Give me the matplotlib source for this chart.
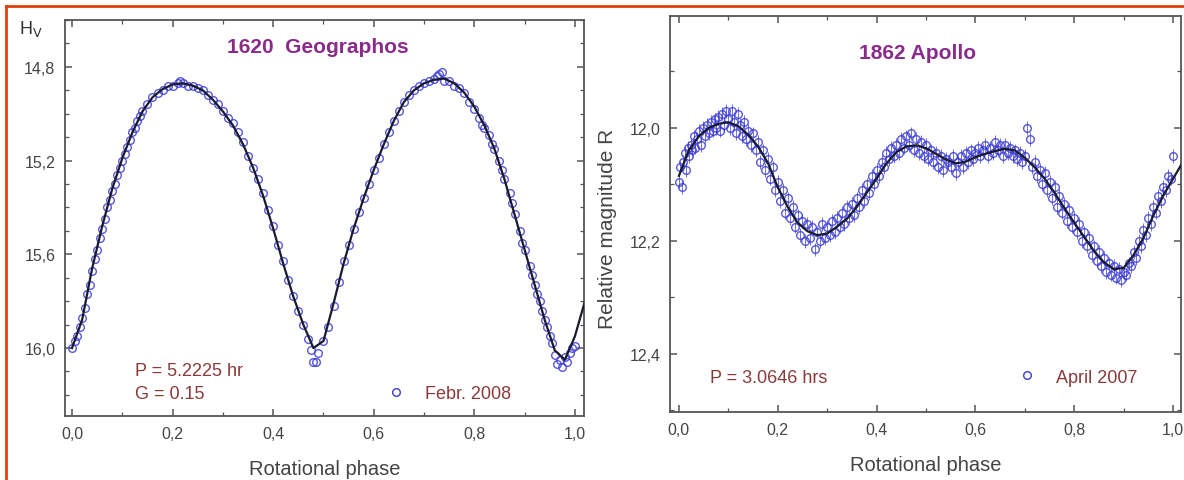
import matplotlib
matplotlib.use("Agg")
import matplotlib.pyplot as plt
from matplotlib.ticker import MultipleLocator, FuncFormatter
from matplotlib.lines import Line2D

plt.rcParams["font.family"] = ["Liberation Sans", "DejaVu Sans"]

# --- 1620 Geographos: fitted curve ---
geo_fit_phase = [0.00, 0.02, 0.04, 0.06, 0.08, 0.10, 0.12, 0.14, 0.16, 0.18,
                 0.20, 0.22, 0.24, 0.26, 0.28, 0.30, 0.32, 0.34, 0.36, 0.38,
                 0.40, 0.42, 0.44, 0.46, 0.48, 0.50, 0.52, 0.54, 0.56, 0.58,
                 0.60, 0.62, 0.64, 0.66, 0.68, 0.70, 0.72, 0.74, 0.76, 0.78,
                 0.80, 0.82, 0.84, 0.86, 0.88, 0.90, 0.92, 0.94, 0.96, 0.98,
                 1.00, 1.02]
geo_fit_mag = [16.00, 15.88, 15.66, 15.48, 15.32, 15.19, 15.08, 14.99, 14.93, 14.895,
               14.875, 14.87, 14.88, 14.90, 14.94, 14.99, 15.05, 15.13, 15.23, 15.35,
               15.49, 15.64, 15.78, 15.90, 16.00, 15.97, 15.81, 15.64, 15.49, 15.36,
               15.24, 15.13, 15.03, 14.95, 14.90, 14.87, 14.855, 14.85, 14.87, 14.91,
               14.97, 15.05, 15.15, 15.28, 15.43, 15.58, 15.73, 15.88, 16.01, 16.05,
               15.95, 15.80]

# --- 1620 Geographos: observations (Febr. 2008) ---
geo_obs_phase = [0.000, 0.005, 0.010, 0.015, 0.020, 0.025, 0.030, 0.035, 0.040, 0.045,
                 0.050, 0.055, 0.060, 0.065, 0.070, 0.075, 0.080, 0.085, 0.090, 0.095,
                 0.100, 0.105, 0.110, 0.115, 0.120, 0.125, 0.130, 0.135, 0.140, 0.150,
                 0.160, 0.170, 0.180, 0.190, 0.200, 0.210, 0.215, 0.220, 0.230, 0.240,
                 0.250, 0.260, 0.270, 0.280, 0.290, 0.300, 0.310, 0.320, 0.330, 0.340,
                 0.350, 0.360, 0.370, 0.380, 0.390, 0.400, 0.410, 0.420, 0.430, 0.440,
                 0.450, 0.460, 0.470, 0.475, 0.480, 0.485, 0.490, 0.500, 0.510, 0.520,
                 0.530, 0.540, 0.550, 0.560, 0.570, 0.580, 0.590, 0.600, 0.610, 0.620,
                 0.630, 0.640, 0.650, 0.660, 0.670, 0.680, 0.690, 0.700, 0.710, 0.720,
                 0.725, 0.730, 0.735, 0.740, 0.750, 0.760, 0.770, 0.780, 0.790, 0.800,
                 0.810, 0.815, 0.820, 0.830, 0.835, 0.840, 0.850, 0.855, 0.860, 0.870,
                 0.875, 0.880, 0.890, 0.895, 0.900, 0.910, 0.915, 0.920, 0.925, 0.930,
                 0.935, 0.940, 0.945, 0.950, 0.955, 0.960, 0.965, 0.970, 0.975, 0.980,
                 0.985, 0.990, 0.995, 1.000]
geo_obs_mag = [16.00, 15.97, 15.95, 15.91, 15.87, 15.83, 15.77, 15.73, 15.67, 15.62,
               15.58, 15.53, 15.49, 15.45, 15.40, 15.37, 15.33, 15.30, 15.26, 15.23,
               15.20, 15.17, 15.14, 15.11, 15.08, 15.06, 15.03, 15.01, 14.99, 14.96,
               14.93, 14.91, 14.90, 14.88, 14.88, 14.87, 14.86, 14.87, 14.88, 14.88,
               14.89, 14.90, 14.92, 14.94, 14.96, 14.99, 15.02, 15.04, 15.08, 15.12,
               15.18, 15.23, 15.28, 15.34, 15.41, 15.48, 15.56, 15.63, 15.71, 15.78,
               15.84, 15.90, 15.96, 16.01, 16.06, 16.06, 16.02, 15.97, 15.91, 15.82,
               15.72, 15.63, 15.56, 15.49, 15.42, 15.36, 15.30, 15.24, 15.19, 15.13,
               15.08, 15.03, 14.99, 14.95, 14.92, 14.90, 14.88, 14.87, 14.86, 14.85,
               14.84, 14.83, 14.82, 14.86, 14.86, 14.88, 14.89, 14.91, 14.95, 14.98,
               15.02, 15.05, 15.06, 15.09, 15.13, 15.15, 15.20, 15.24, 15.28, 15.34,
               15.38, 15.43, 15.50, 15.55, 15.58, 15.65, 15.69, 15.73, 15.77, 15.80,
               15.84, 15.88, 15.91, 15.95, 15.98, 16.03, 16.07, 16.05, 16.08, 16.04,
               16.06, 16.02, 16.00, 15.99]

# --- 1862 Apollo: fitted curve ---
apo_fit_phase = [0.00, 0.02, 0.04, 0.06, 0.08, 0.10, 0.12, 0.14, 0.16, 0.18,
                 0.20, 0.22, 0.24, 0.26, 0.28, 0.30, 0.32, 0.34, 0.36, 0.38,
                 0.40, 0.42, 0.44, 0.46, 0.48, 0.50, 0.52, 0.54, 0.56, 0.58,
                 0.60, 0.62, 0.64, 0.66, 0.68, 0.70, 0.72, 0.74, 0.76, 0.78,
                 0.80, 0.82, 0.84, 0.86, 0.88, 0.90, 0.92, 0.94, 0.96, 0.98,
                 1.00, 1.02]
apo_fit_mag = [12.085, 12.04, 12.015, 12.0, 11.993, 11.99, 11.997, 12.012, 12.033, 12.062,
               12.105, 12.14, 12.168, 12.183, 12.19, 12.187, 12.175, 12.161, 12.14, 12.115,
               12.09, 12.063, 12.043, 12.033, 12.031, 12.036, 12.046, 12.056, 12.063, 12.06,
               12.052, 12.046, 12.041, 12.037, 12.04, 12.053, 12.07, 12.09, 12.115, 12.142,
               12.168, 12.193, 12.218, 12.238, 12.25, 12.248, 12.225, 12.195, 12.155, 12.12,
               12.09, 12.06]

# --- 1862 Apollo: observations (April 2007) ---
apo_obs_phase = [0.000, 0.003, 0.006, 0.009, 0.012, 0.015, 0.018, 0.021, 0.024, 0.027,
                 0.030, 0.033, 0.036, 0.040, 0.044, 0.048, 0.052, 0.056, 0.060, 0.064,
                 0.068, 0.072, 0.076, 0.080, 0.084, 0.088, 0.092, 0.096, 0.100, 0.104,
                 0.108, 0.112, 0.116, 0.120, 0.124, 0.128, 0.132, 0.136, 0.140, 0.145,
                 0.150, 0.155, 0.160, 0.165, 0.170, 0.175, 0.180, 0.185, 0.190, 0.195,
                 0.200, 0.205, 0.210, 0.215, 0.220, 0.225, 0.230, 0.235, 0.240, 0.245,
                 0.250, 0.255, 0.260, 0.265, 0.270, 0.275, 0.280, 0.285, 0.290, 0.295,
                 0.300, 0.305, 0.310, 0.315, 0.320, 0.325, 0.330, 0.335, 0.340, 0.345,
                 0.350, 0.355, 0.360, 0.365, 0.370, 0.375, 0.380, 0.385, 0.390, 0.395,
                 0.400, 0.405, 0.410, 0.415, 0.420, 0.425, 0.430, 0.435, 0.440, 0.445,
                 0.450, 0.455, 0.460, 0.465, 0.470, 0.475, 0.480, 0.485, 0.490, 0.495,
                 0.500, 0.505, 0.510, 0.515, 0.520, 0.525, 0.530, 0.535, 0.540, 0.545,
                 0.550, 0.555, 0.560, 0.565, 0.570, 0.575, 0.580, 0.585, 0.590, 0.595,
                 0.600, 0.605, 0.610, 0.615, 0.620, 0.625, 0.630, 0.635, 0.640, 0.645,
                 0.650, 0.655, 0.660, 0.665, 0.670, 0.675, 0.680, 0.685, 0.690, 0.695,
                 0.700, 0.705, 0.710, 0.715, 0.720, 0.725, 0.730, 0.735, 0.740, 0.745,
                 0.750, 0.755, 0.760, 0.765, 0.770, 0.775, 0.780, 0.785, 0.790, 0.795,
                 0.800, 0.805, 0.810, 0.815, 0.820, 0.825, 0.830, 0.835, 0.840, 0.845,
                 0.850, 0.855, 0.860, 0.865, 0.870, 0.875, 0.880, 0.885, 0.890, 0.895,
                 0.900, 0.905, 0.910, 0.915, 0.920, 0.925, 0.930, 0.935, 0.940, 0.945,
                 0.950, 0.955, 0.960, 0.965, 0.970, 0.975, 0.980, 0.985, 0.990, 0.995,
                 1.000]
apo_obs_mag = [12.095, 12.07, 12.105, 12.06, 12.045, 12.075, 12.035, 12.05, 12.03, 12.04,
               12.015, 12.035, 12.02, 12.005, 12.03, 12.0, 12.015, 11.995, 12.01, 11.99,
               12.005, 11.985, 12.0, 11.98, 12.005, 11.975, 11.995, 11.97, 11.985, 12.0,
               11.97, 11.99, 12.01, 11.975, 11.995, 12.015, 11.99, 12.02, 12.005, 12.03,
               12.01, 12.04, 12.025, 12.06, 12.04, 12.075, 12.055, 12.09, 12.07, 12.11,
               12.095, 12.13, 12.11, 12.15, 12.125, 12.16, 12.14, 12.175, 12.155, 12.19,
               12.165, 12.2, 12.17, 12.195, 12.175, 12.215, 12.185, 12.2, 12.17, 12.195,
               12.175, 12.19, 12.165, 12.185, 12.16, 12.175, 12.15, 12.17, 12.14, 12.16,
               12.135, 12.155, 12.125, 12.14, 12.11, 12.13, 12.1, 12.115, 12.085, 12.1,
               12.075, 12.085, 12.06, 12.07, 12.045, 12.055, 12.035, 12.05, 12.03, 12.045,
               12.02, 12.035, 12.015, 12.03, 12.01, 12.04, 12.02, 12.045, 12.025, 12.05,
               12.03, 12.055, 12.04, 12.06, 12.045, 12.07, 12.05, 12.075, 12.055, 12.06,
               12.07, 12.05, 12.08, 12.06, 12.05, 12.07, 12.045, 12.06, 12.04, 12.055,
               12.045, 12.035, 12.05, 12.04, 12.03, 12.05, 12.035, 12.045, 12.025, 12.04,
               12.03, 12.05, 12.03, 12.045, 12.035, 12.05, 12.04, 12.055, 12.045, 12.06,
               12.05, 12.0, 12.02, 12.07, 12.06, 12.085, 12.075, 12.1, 12.08, 12.11,
               12.095, 12.125, 12.105, 12.14, 12.12, 12.15, 12.135, 12.165, 12.145, 12.175,
               12.16, 12.185, 12.17, 12.2, 12.185, 12.21, 12.195, 12.225, 12.21, 12.235,
               12.22, 12.245, 12.23, 12.255, 12.24, 12.26, 12.245, 12.265, 12.25, 12.27,
               12.255, 12.26, 12.24, 12.245, 12.22, 12.23, 12.2, 12.21, 12.18, 12.19,
               12.16, 12.17, 12.14, 12.15, 12.12, 12.13, 12.105, 12.11, 12.085, 12.09,
               12.05]
apo_obs_err = 0.012

GRAY = "#555555"
LABEL = "#444444"
TXT_RED = "#8b3a3a"
TITLE_PURPLE = "#8a2a8a"
PT_BLUE = "#3b3bd6"


def comma_fmt(v, pos):
    return f"{v:.1f}".replace(".", ",")


def style_axes(ax, ymaj):
    for s in ax.spines.values():
        s.set_color(GRAY)
        s.set_linewidth(1.3)
    ax.xaxis.set_major_locator(MultipleLocator(0.2))
    ax.xaxis.set_minor_locator(MultipleLocator(0.1))
    ax.yaxis.set_major_locator(MultipleLocator(ymaj))
    ax.yaxis.set_minor_locator(MultipleLocator(0.1))
    ax.xaxis.set_major_formatter(FuncFormatter(comma_fmt))
    ax.yaxis.set_major_formatter(FuncFormatter(comma_fmt))
    ax.tick_params(which="both", direction="in", top=True, right=True,
                   color=GRAY, labelcolor=LABEL, labelsize=11.5, pad=7)
    ax.tick_params(which="major", length=5, width=1.1)
    ax.tick_params(which="minor", length=3, width=0.9)
    ax.set_xlabel("Rotational phase", fontsize=14.5, color=LABEL, labelpad=13)


fig = plt.figure(figsize=(11.84, 4.81), dpi=100)

# left panel
ax1 = fig.add_axes([0.0549, 0.1331, 0.4383, 0.8232])
ax1.plot(geo_obs_phase, geo_obs_mag, "o", mfc="none", mec=PT_BLUE, ms=5.5, mew=1.0,
         alpha=0.85, zorder=2)
ax1.plot(geo_fit_phase, geo_fit_mag, color="#1a1a2e", lw=1.6, zorder=3)
ax1.set_xlim(-0.014, 1.018)
ax1.set_ylim(16.29, 14.60)
style_axes(ax1, 0.4)
ax1.text(0.487, 0.932, "1620  Geographos", transform=ax1.transAxes, ha="center",
         va="center", fontsize=15, fontweight="bold", color=TITLE_PURPLE)
ax1.text(0.135, 0.114, "P = 5.2225 hr", transform=ax1.transAxes, ha="left",
         va="center", fontsize=13, color=TXT_RED)
ax1.text(0.135, 0.056, "G = 0.15", transform=ax1.transAxes, ha="left",
         va="center", fontsize=13, color=TXT_RED)
h1 = Line2D([], [], ls="none", marker="o", mfc="none", mec=PT_BLUE, ms=5.5, mew=1.0)
leg1 = ax1.legend([h1], ["Febr. 2008"], loc="center left", bbox_to_anchor=(0.586, 0.056),
                  frameon=False, fontsize=13, handletextpad=0.6, borderpad=0)
for t in leg1.get_texts():
    t.set_color(TXT_RED)
fig.text(0.016, 0.94, r"H$_\mathrm{V}$", fontsize=13, color="#333333", ha="left", va="center")

# right panel
ax2 = fig.add_axes([0.5659, 0.1414, 0.4316, 0.8233])
ax2.errorbar(apo_obs_phase, apo_obs_mag, yerr=apo_obs_err, fmt="o", mfc="none",
             mec=PT_BLUE, ms=5.5, mew=1.0, ecolor=PT_BLUE, elinewidth=0.6,
             alpha=0.85, zorder=2)
ax2.plot(apo_fit_phase, apo_fit_mag, color="#1a1a2e", lw=1.6, zorder=3)
ax2.set_xlim(-0.018, 1.016)
ax2.set_ylim(12.503, 11.802)
style_axes(ax2, 0.2)
ax2.set_ylabel("Relative magnitude R", fontsize=15, color=LABEL)
ax2.yaxis.set_label_coords(-0.104, 0.465)
ax2.text(0.485, 0.909, "1862 Apollo", transform=ax2.transAxes, ha="center",
         va="center", fontsize=15, fontweight="bold", color=TITLE_PURPLE)
ax2.text(0.078, 0.088, "P = 3.0646 hrs", transform=ax2.transAxes, ha="left",
         va="center", fontsize=13, color=TXT_RED)
h2 = Line2D([], [], ls="none", marker="o", mfc="none", mec=PT_BLUE, ms=5.5, mew=1.0)
leg2 = ax2.legend([h2], ["April 2007"], loc="center left", bbox_to_anchor=(0.645, 0.088),
                  frameon=False, fontsize=13, handletextpad=0.6, borderpad=0)
for t in leg2.get_texts():
    t.set_color(TXT_RED)

# orange frame line (top and left)
fig.add_artist(Line2D([0.005, 1.0], [1 - 7 / 481, 1 - 7 / 481], color="#e0400e", lw=2,
                      transform=fig.transFigure))
fig.add_artist(Line2D([0.005, 0.005], [0.0, 1 - 7 / 481], color="#e0400e", lw=2,
                      transform=fig.transFigure))

fig.savefig("out.png", dpi=100)
